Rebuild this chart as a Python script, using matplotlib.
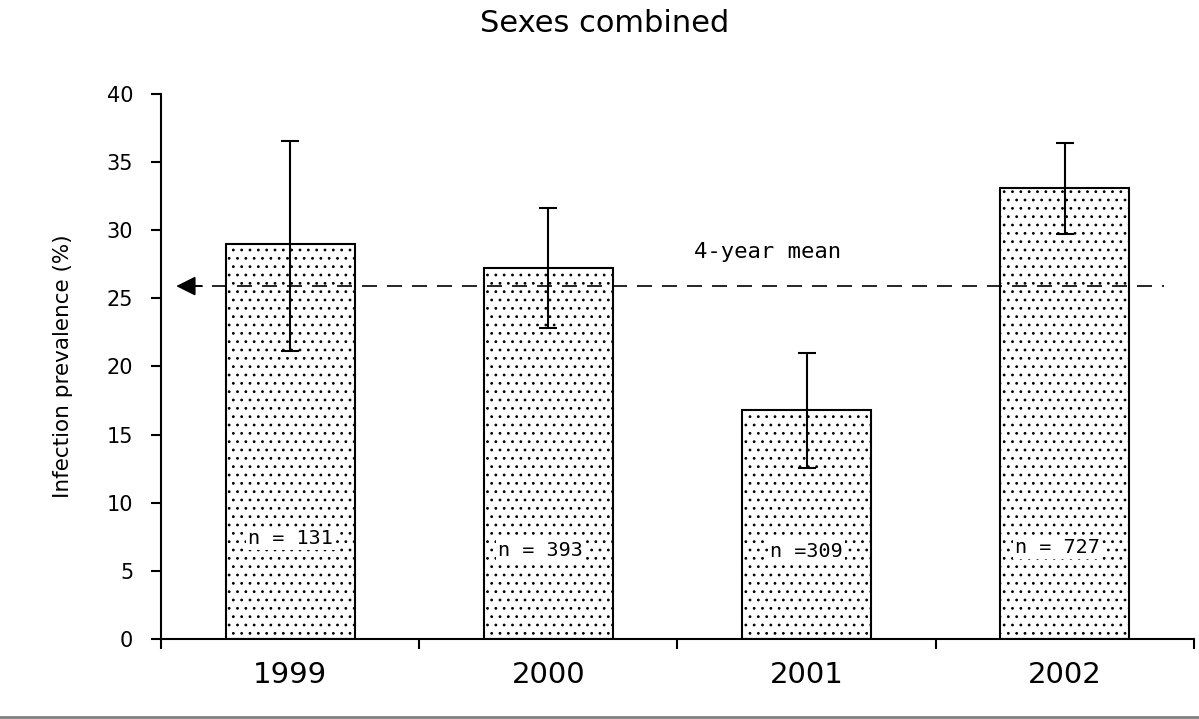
import numpy as np
import matplotlib
matplotlib.use('Agg')
import matplotlib.pyplot as plt
from matplotlib.lines import Line2D

#----数据------------------------------------
years      = ['1999', '2000', '2001', '2002']
prevalence = [29.0, 27.2, 16.8, 33.1]          # infection prevalence (%)
err_low    = [7.9, 4.4, 4.25, 3.4]
err_high   = [7.55, 4.4, 4.2, 3.3]
n_labels   = ['n = 131', 'n = 393', 'n =309', 'n = 727']
n_label_y  = [7.4, 6.5, 6.4, 6.7]
n_label_dx = [0.0, -0.03, 0.0, -0.03]
mean_val   = 25.9
#-------------------------------------------

plt.rcParams['hatch.linewidth'] = 0.8
fig = plt.figure(figsize=(11.99, 7.19), dpi=100)
ax = fig.add_axes([0.1343, 0.1113, 0.8615, 0.758])

x = np.arange(len(years))
ax.bar(x, prevalence, width=0.5, color='white', edgecolor='black',
       linewidth=1.5, hatch='..', zorder=2)
ax.errorbar(x, prevalence, yerr=[err_low, err_high], fmt='none',
            ecolor='black', elinewidth=1.5, capsize=6.5, capthick=1.5, zorder=4)

for i, lab in enumerate(n_labels):
    ax.text(x[i] + n_label_dx[i], n_label_y[i], lab, ha='center', va='center',
            fontsize=14.5, family='DejaVu Sans Mono', zorder=5,
            bbox=dict(facecolor='white', edgecolor='none', pad=1.5))

# 4-year mean line with arrow
ax.plot([-0.40, 3.384], [mean_val, mean_val], color='black', lw=1.2,
        dashes=(9, 6), zorder=3)
ax.annotate('', xy=(-0.452, mean_val), xytext=(-0.33, mean_val),
            arrowprops=dict(arrowstyle='-|>', mutation_scale=30, color='black', lw=1.2),
            zorder=3)
ax.text(1.85, 28.4, '4-year mean', ha='center', va='center',
        fontsize=16, family='DejaVu Sans Mono')

ax.set_xlim(-0.5, 3.5)
ax.set_ylim(0, 40)
ax.set_yticks(np.arange(0, 41, 5))
ax.set_xticks(np.arange(-0.5, 3.6, 1.0))
ax.set_xticklabels([])
ax.set_xticks(x, minor=True)
ax.set_xticklabels(years, minor=True, fontsize=21)
ax.tick_params(axis='x', which='minor', length=0, pad=16)
ax.tick_params(axis='x', which='major', length=7, width=1.5, direction='out')
ax.tick_params(axis='y', length=7, width=1.5, labelsize=15, pad=13)
for s in ['top', 'right']:
    ax.spines[s].set_visible(False)
for s in ['left', 'bottom']:
    ax.spines[s].set_linewidth(1.5)

ax.set_ylabel('Infection prevalence (%)', fontsize=15.5, labelpad=24)
fig.text(0.504, 0.968, 'Sexes combined', ha='center', va='center', fontsize=22)

# grey frame line at bottom
fig.add_artist(Line2D([0, 1], [0.003, 0.003], color='#808080', lw=2,
                      transform=fig.transFigure))

plt.savefig('out.png', dpi=100)
